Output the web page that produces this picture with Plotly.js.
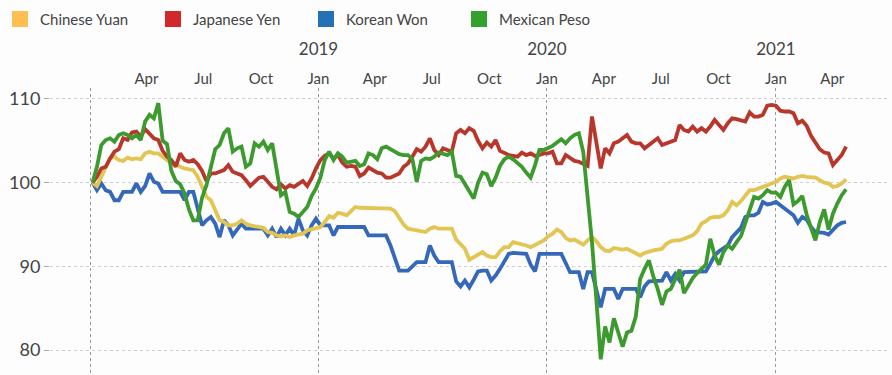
<!DOCTYPE html>
<html>
<head>
<meta charset="utf-8">
<script src="https://cdn.plot.ly/plotly-3.0.1.min.js"></script>
<style>html,body{margin:0;padding:0;background:#fcfdfc;}#chart{width:892px;height:375px;}</style>
</head>
<body>
<div id="chart"></div>
<script>
// Weekly index values (first week of Jan 2018 = 100)
const firstWeek = '2018-01-05';

const chineseYuan = [
100.0, 99.6, 100.7, 101.7, 102.9, 103.1, 102.7, 102.6, 103.0, 102.8,
102.9, 102.8, 103.5, 103.7, 103.5, 103.5, 103.1, 102.7, 102.3, 102.3,
101.9, 101.7, 101.6, 101.5, 100.7, 99.5, 98.3, 97.9, 96.7, 95.5,
95.3, 94.9, 94.9, 95.1, 95.5, 95.1, 94.9, 94.8, 94.8, 94.6,
94.1, 94.0, 93.7, 93.6, 93.7, 93.5, 93.7, 93.8, 93.9, 94.3,
94.4, 94.5, 94.7, 95.3, 96.0, 95.8, 96.4, 96.3, 96.1, 96.6,
97.1, 97.0, 97.0, 97.0, 96.9, 96.9, 96.9, 97.0, 96.9, 96.6,
95.8, 95.0, 94.5, 94.4, 94.2, 94.2, 94.1, 94.5, 94.7, 94.5,
94.5, 94.5, 94.5, 93.2, 92.6, 92.1, 90.8, 91.1, 91.4, 91.7,
91.3, 91.1, 91.1, 91.8, 92.3, 92.3, 92.9, 92.8, 92.7,
92.5, 92.3, 92.6, 92.9, 93.1, 93.6, 93.9, 94.4, 94.1, 93.4,
93.1, 93.2, 92.9, 92.6, 93.1, 93.5, 93.0, 92.3, 91.9, 91.8,
92.2, 92.1, 92.0, 92.1, 91.8, 91.5, 91.3, 91.6, 91.8, 91.9,
92.0, 92.1, 92.7, 93.0, 93.1, 93.1, 93.3, 93.5, 93.7, 94.2,
95.1, 95.4, 95.8, 95.9, 95.9, 96.1, 96.7, 97.7, 97.3,
97.8, 98.5, 99.1, 99.1, 99.3, 99.5, 99.7, 99.8, 100.1, 100.5,
100.7, 100.6, 100.5, 100.7, 100.8, 100.7, 100.6, 100.6, 100.3, 100.0,
99.9, 99.5, 99.6, 99.9, 100.4
];

const japaneseYen = [
100.0, 100.7, 101.7, 101.9, 102.9, 103.7, 104.0, 105.3, 105.1, 106.0,
106.1, 105.5, 106.4, 105.8, 105.3, 105.1, 103.8, 103.1, 102.7, 101.9,
103.5, 102.7, 102.5, 102.7, 102.2, 101.4, 100.2, 101.1, 101.1, 101.3,
101.5, 102.1, 101.3, 101.1, 100.9, 100.3, 99.6, 100.1, 100.6, 100.7,
100.1, 99.5, 99.2, 99.8, 99.3, 99.7, 99.5, 99.8, 100.2, 99.6,
100.5, 101.7, 102.7, 103.2, 103.5, 102.9, 103.3, 102.4, 101.9, 102.0,
101.9, 100.8, 101.1, 101.8, 101.5, 101.2, 101.1, 100.6, 100.6, 100.8,
101.1, 101.9, 102.3, 103.1, 104.0, 103.7, 104.3, 105.3, 103.9, 103.3,
104.1, 103.9, 103.7, 105.9, 106.3, 105.9, 106.5, 106.2, 105.0, 104.1,
104.8, 104.3, 105.1, 103.8, 103.5, 103.3, 103.2, 103.1, 103.6,
103.3, 103.5, 103.2, 103.3, 103.5, 103.5, 103.7, 102.3, 102.3, 103.3,
102.9, 102.6, 102.5, 102.2, 102.0, 107.9, 104.8, 101.7, 104.1, 103.5,
104.7, 104.9, 105.3, 105.7, 104.9, 104.7, 104.7, 104.1, 104.5, 104.9,
105.3, 104.5, 104.7, 104.9, 105.1, 106.9, 106.3, 106.1, 106.7, 106.1,
106.5, 106.1, 106.7, 107.5, 106.9, 106.3, 107.1, 107.7, 107.6,
107.5, 107.3, 108.4, 107.9, 107.9, 108.1, 109.2, 109.3, 109.2, 108.6,
108.5, 108.5, 108.3, 107.1, 107.4, 106.8, 105.6, 104.7, 104.0, 103.6,
103.5, 102.1, 102.7, 103.3, 104.3
];

const koreanWon = [
100.0, 99.1, 99.9, 99.1, 98.9, 97.9, 97.9, 98.9, 98.9, 98.9,
99.9, 98.9, 99.6, 101.1, 100.1, 99.9, 98.9, 98.9, 98.9, 98.9,
98.9, 97.9, 98.9, 98.9, 96.7, 94.9, 95.5, 95.9, 95.1, 93.5,
95.5, 94.9, 93.7, 94.5, 95.1, 94.5, 94.5, 94.5, 94.5, 94.5,
93.7, 94.5, 93.5, 94.5, 93.7, 94.5, 93.7, 95.7, 94.3, 93.7,
94.9, 95.7, 94.9, 94.9, 94.9, 93.7, 94.7, 94.7, 94.7, 94.7,
94.7, 94.7, 94.7, 93.7, 93.7, 93.7, 93.7, 93.7, 92.5, 91.0,
89.5, 89.5, 89.5, 90.0, 90.5, 90.5, 90.5, 92.5, 91.3, 90.5,
90.5, 90.5, 90.5, 88.2, 87.6, 88.3, 87.5, 88.4, 89.4, 89.5,
89.5, 88.3, 88.9, 89.7, 90.5, 91.5, 91.6, 91.6, 91.6,
91.5, 90.2, 89.4, 91.5, 91.5, 91.5, 91.5, 91.5, 91.5, 90.4,
89.3, 89.3, 89.3, 87.3, 89.3, 89.3, 87.3, 85.1, 87.3, 87.3,
87.3, 86.1, 87.3, 87.3, 87.3, 87.3, 86.3, 87.6, 88.2, 88.2,
88.2, 88.3, 89.3, 88.3, 89.1, 88.3, 89.3, 89.3, 89.3, 89.3,
89.3, 89.4, 90.3, 91.3, 91.8, 92.2, 92.5, 93.5, 94.1,
94.6, 95.9, 96.1, 96.1, 96.4, 97.7, 97.4, 97.5, 97.7, 97.3,
96.9, 96.6, 96.1, 95.2, 95.9, 95.6, 94.7, 94.1, 94.1, 94.0,
93.8, 94.3, 94.9, 95.2, 95.3
];

const mexicanPeso = [
100.0, 101.9, 104.5, 105.1, 105.3, 104.9, 105.7, 105.9, 105.7, 105.3,
105.7, 105.1, 107.3, 108.1, 107.7, 109.5, 105.0, 104.6, 101.4, 100.2,
99.8, 98.7, 96.8, 95.5, 95.5, 98.2, 99.7, 101.7, 104.0, 104.5,
105.9, 106.5, 103.7, 104.1, 104.3, 101.9, 102.3, 104.7, 104.3, 104.9,
103.9, 104.7, 101.7, 98.5, 98.9, 96.5, 96.3, 95.9, 96.5, 97.1,
98.4, 99.3, 100.6, 102.7, 103.7, 102.7, 103.5, 103.1, 102.4, 102.5,
102.6, 102.0, 102.2, 103.5, 103.3, 102.8, 104.1, 104.3, 104.0, 103.8,
103.4, 103.3, 103.3, 102.8, 100.1, 102.6, 102.9, 102.8, 103.1, 103.6,
103.5, 103.3, 103.7, 100.8, 100.7, 99.8, 98.9, 98.1, 100.0, 101.2,
101.0, 99.6, 100.6, 102.0, 102.8, 103.1, 102.8, 102.4, 101.9,
101.2, 100.6, 102.1, 103.9, 103.9, 104.1, 104.4, 104.8, 105.2, 104.7,
105.3, 105.7, 105.9, 103.7, 98.1, 92.9, 86.0, 78.9, 82.8, 80.9,
83.8, 82.0, 80.4, 82.1, 82.3, 84.0, 88.5, 89.7, 90.7, 88.8,
87.3, 85.4, 87.0, 87.3, 88.4, 89.6, 86.8, 87.8, 88.6, 89.2,
89.7, 90.2, 93.3, 91.3, 90.2, 91.7, 92.5, 92.1, 92.9,
93.6, 95.2, 96.6, 98.3, 98.1, 98.5, 99.1, 98.8, 98.8, 98.3,
99.5, 100.3, 97.4, 97.8, 98.4, 96.2, 94.6, 93.1, 95.3, 96.8,
94.4, 96.3, 97.5, 98.5, 99.2
];

const seriesNames = ['Chinese Yuan', 'Japanese Yen', 'Korean Won', 'Mexican Peso'];
const monthTickDates = ['2018-04-01','2018-07-01','2018-10-01','2019-01-01','2019-04-01','2019-07-01','2019-10-01',
  '2020-01-01','2020-04-01','2020-07-01','2020-10-01','2021-01-01','2021-04-01'];
const monthTickLabels = ['Apr','Jul','Oct','Jan','Apr','Jul','Oct','Jan','Apr','Jul','Oct','Jan','Apr'];
const yearTickDates = ['2018-01-01','2019-01-01','2020-01-01','2021-01-01'];
const yearTickLabels = ['', '2019', '2020', '2021'];
const yTickValues = [80, 90, 100, 110];

// weekly dates
function weekDates(start, n) {
  const d0 = Date.parse(start + 'T00:00:00Z');
  const out = [];
  for (let i = 0; i < n; i++) out.push(new Date(d0 + i * 7 * 86400000).toISOString().slice(0, 10));
  return out;
}
const dates = weekDates(firstWeek, chineseYuan.length);

const lineColors = ['#e2c552', '#b8362b', '#3568b9', '#3d9a2f'];
const swatchColors = ['#fdbf52', '#d3282a', '#2471b5', '#34a02d'];
const values = [chineseYuan, japaneseYen, koreanWon, mexicanPeso];
const drawOrder = [2, 0, 1, 3];

const traces = [];
drawOrder.forEach(k => {
  traces.push({
    x: dates, y: values[k], type: 'scatter', mode: 'lines',
    line: {color: lineColors[k], width: 3.8},
    name: seriesNames[k], showlegend: false, hoverinfo: 'x+y+name'
  });
});
seriesNames.forEach((n, k) => {
  traces.push({
    x: [null], y: [null], type: 'scatter', mode: 'markers', name: n,
    marker: {symbol: 'square', size: 16, color: swatchColors[k]}, showlegend: true
  });
});
traces.push({x: [yearTickDates[1]], y: [null], xaxis: 'x2', type: 'scatter', mode: 'lines', showlegend: false, hoverinfo: 'skip'});

const xRange = ['2017-10-29', '2021-06-29'];

const layout = {
  width: 892, height: 375,
  paper_bgcolor: '#fcfdfc', plot_bgcolor: '#fcfdfc',
  margin: {l: 50, r: 4, t: 88, b: 0},
  font: {family: 'Lato, "Open Sans", sans-serif', color: '#444', size: 15},
  showlegend: true,
  legend: {orientation: 'h', xref: 'container', x: -0.016, xanchor: 'left', y: 0.993, yanchor: 'top', yref: 'container',
           font: {size: 15, color: '#444'}, entrywidth: 108, entrywidthmode: 'pixels',
           itemsizing: 'trace', bgcolor: 'rgba(0,0,0,0)'},
  xaxis: {type: 'date', range: xRange, side: 'top', tickvals: monthTickDates, ticktext: monthTickLabels,
          showgrid: false, zeroline: false, showline: false, ticks: '', tickfont: {size: 15, color: '#444'},
          fixedrange: true},
  xaxis2: {type: 'date', range: xRange, overlaying: 'x', side: 'top', tickvals: yearTickDates, ticktext: yearTickLabels,
           showgrid: true, gridcolor: '#9a9a9a', griddash: 'dot', gridwidth: 1, zeroline: false, showline: false,
           ticks: '', ticklabelstandoff: 29, tickfont: {size: 17, color: '#444'}},
  yaxis: {range: [77.02, 111.31], tickvals: yTickValues, showgrid: true, gridcolor: '#d0d0d0', griddash: 'dot',
          gridwidth: 1, ticks: 'outside', ticklen: 5, tickcolor: '#aaa', tickfont: {size: 18, color: '#444'},
          zeroline: false, showline: false}
};

Plotly.newPlot('chart', traces, layout, {displayModeBar: false, staticPlot: true});
</script>
</body>
</html>
